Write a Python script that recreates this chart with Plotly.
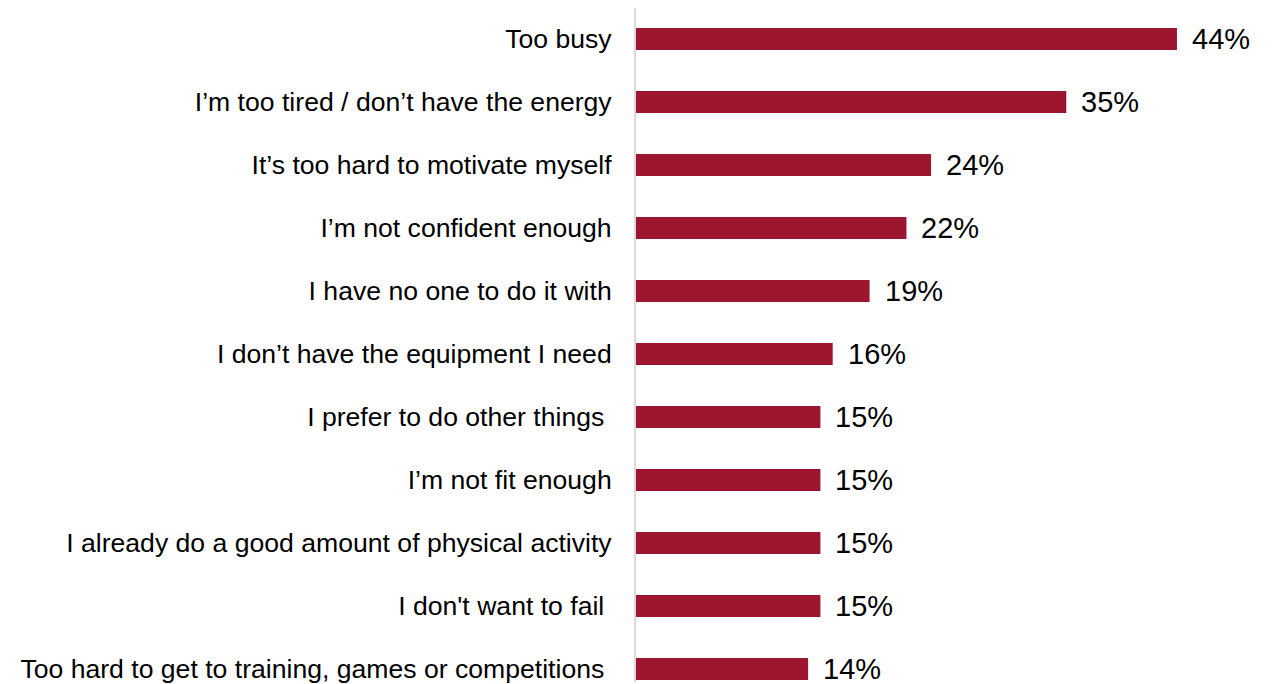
import plotly.graph_objects as go

# Reasons given for not being more active (share of respondents, %)
reasons = [
    "Too busy",
    "I\u2019m too tired / don\u2019t have the energy",
    "It\u2019s too hard to motivate myself",
    "I\u2019m not confident enough",
    "I have no one to do it with",
    "I don\u2019t have the equipment I need",
    "I prefer to do other things\u00a0",
    "I\u2019m not fit enough",
    "I already do a good amount of physical activity",
    "I don't want to fail\u00a0",
    "Too hard to get to training, games or competitions\u00a0",
]
shares = [44, 35, 24, 22, 19, 16, 15, 15, 15, 15, 14]
value_labels = [f"{v}%" for v in shares]

BAR_COLOR = "#9D152E"
FONT = "Liberation Sans, Arial, sans-serif"

fig = go.Figure(
    go.Bar(
        x=shares,
        y=reasons,
        orientation="h",
        marker=dict(color=BAR_COLOR, line=dict(width=0)),
        hoverinfo="skip",
    )
)

# Percentage labels just to the right of each bar
for name, v, lab in zip(reasons, shares, value_labels):
    fig.add_annotation(
        x=v, y=name, text=lab, showarrow=False,
        xanchor="left", yanchor="middle", xshift=13,
        font=dict(family=FONT, size=29, color="#000000"),
    )

n = len(reasons)
fig.update_layout(
    width=1279, height=684,
    margin=dict(l=636, r=16, t=8, b=0),
    paper_bgcolor="white", plot_bgcolor="white",
    bargap=0.65,
    showlegend=False,
    font=dict(family=FONT, color="#000000"),
    xaxis=dict(
        range=[0, 51], visible=False, showgrid=False, zeroline=False,
    ),
    yaxis=dict(
        type="category",
        categoryorder="array", categoryarray=reasons,
        range=[n - 1 + 13 / 63.2, -31 / 63.2],
        showgrid=False, zeroline=False,
        showline=True, linecolor="#D9D9D9", linewidth=2,
        ticks="", ticklabelstandoff=17,
        tickfont=dict(family=FONT, size=26.6, color="#000000"),
    ),
)

fig.write_html("out.html")
